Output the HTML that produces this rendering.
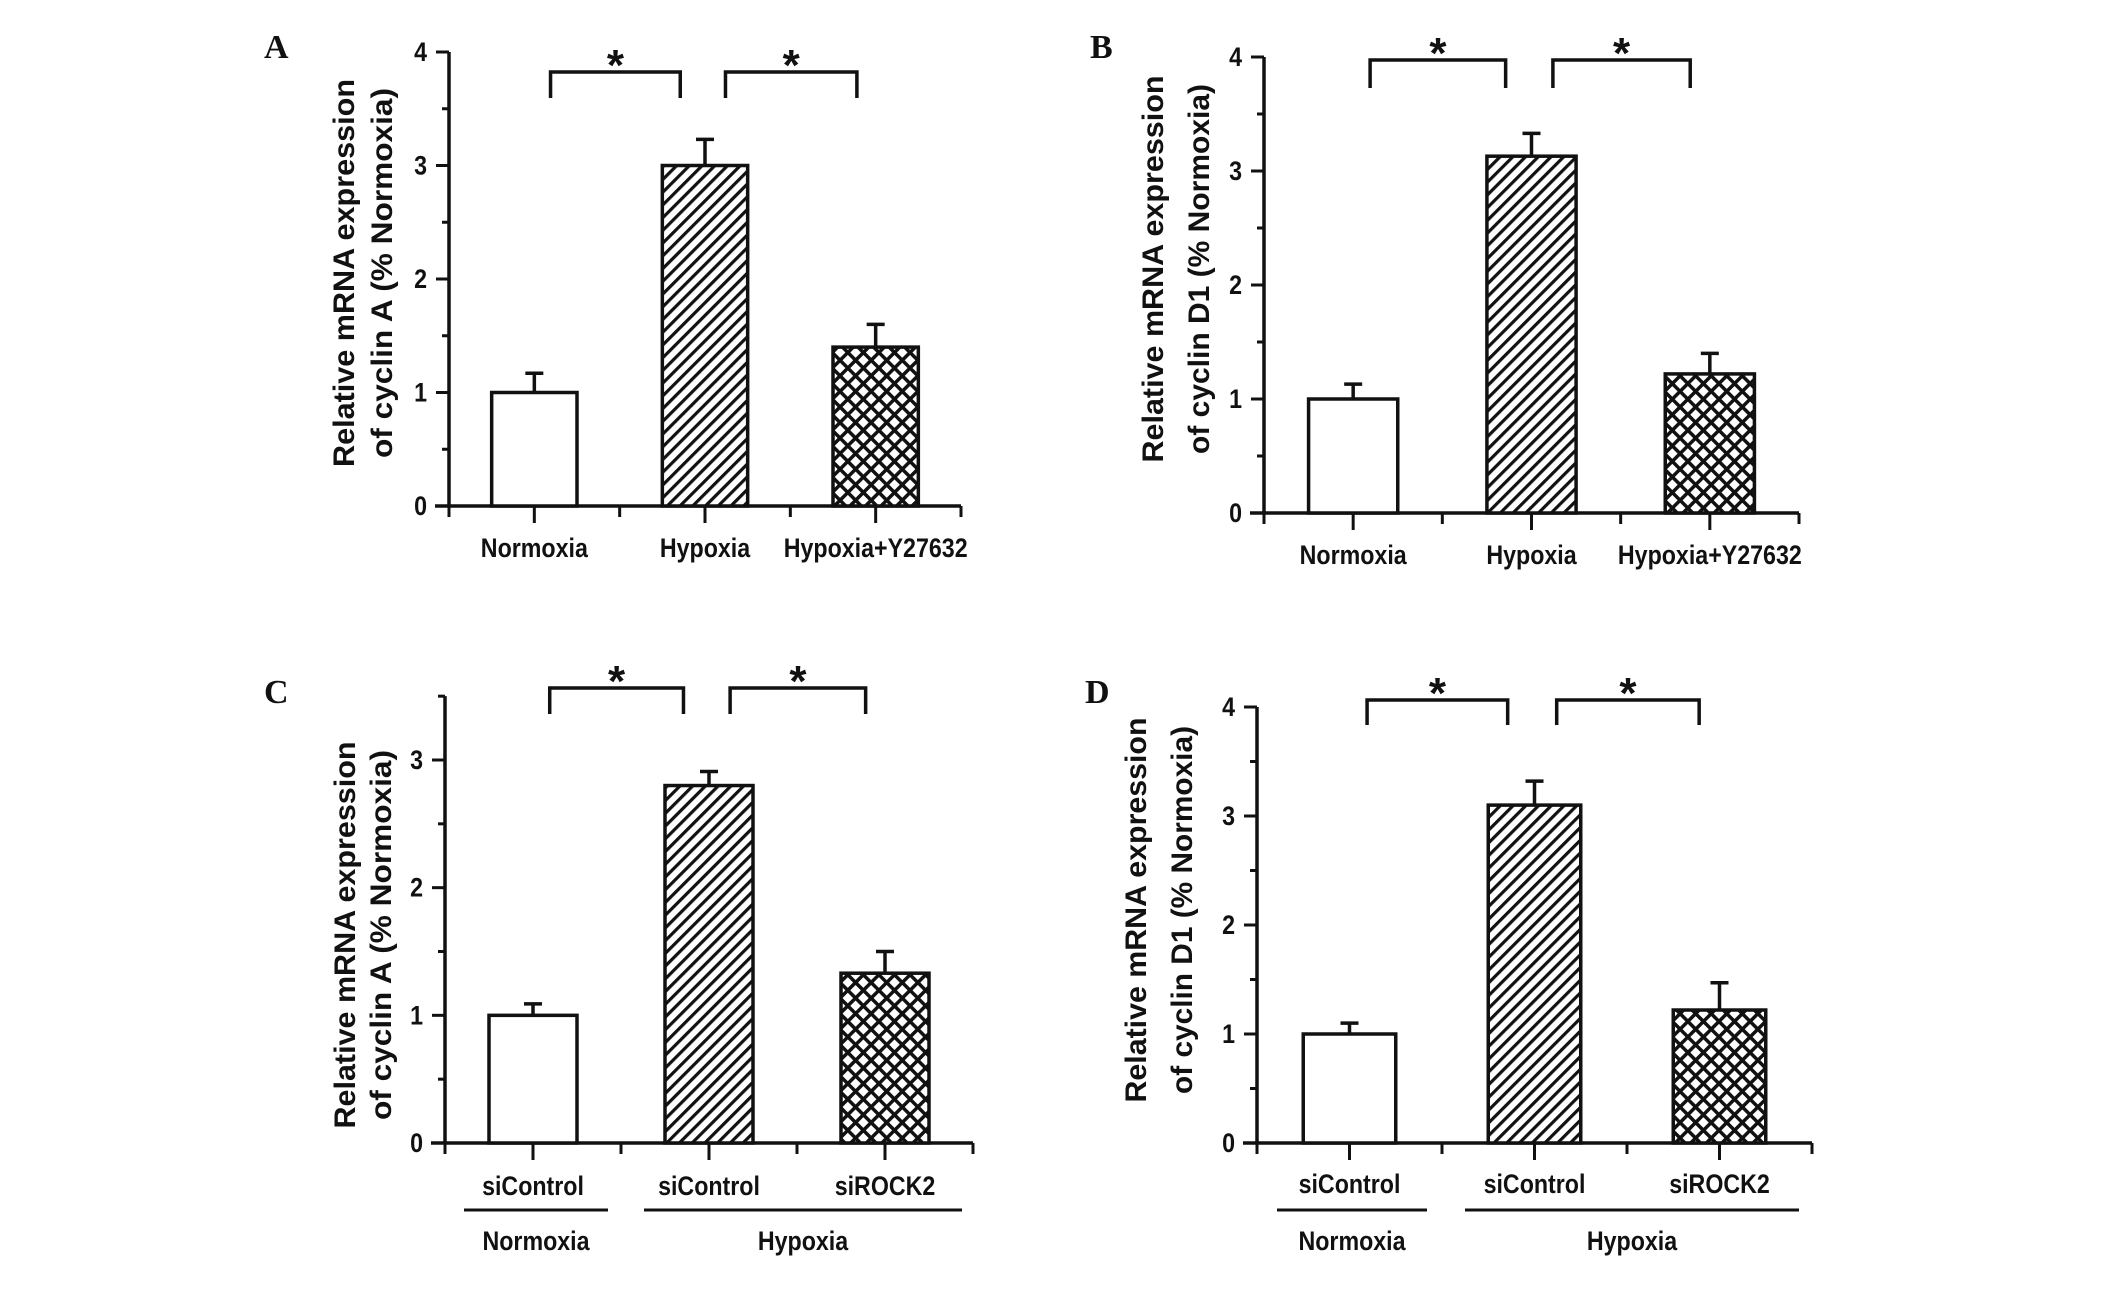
<!DOCTYPE html>
<html><head><meta charset="utf-8"><style>
html,body{margin:0;padding:0;background:#fff;}
svg{display:block;}
.tk{font-family:"Liberation Sans",sans-serif;font-weight:bold;font-size:27px;fill:#111;}
.yt{font-family:"Liberation Sans",sans-serif;font-weight:bold;font-size:30px;fill:#111;}
.star{font-family:"Liberation Sans",sans-serif;font-weight:bold;font-size:44px;fill:#111;}
.pl{font-family:"Liberation Serif",serif;font-weight:bold;font-size:34px;fill:#111;}
</style></head><body>
<svg id="fig" width="2126" height="1302" viewBox="0 0 2126 1302" xmlns="http://www.w3.org/2000/svg">
<defs>
<pattern id="hatch" patternUnits="userSpaceOnUse" width="9" height="9" patternTransform="rotate(45)">
<rect width="9" height="9" fill="#fff"/><rect x="0" y="0" width="3.2" height="9" fill="#111"/>
</pattern>
<pattern id="cross" patternUnits="userSpaceOnUse" width="11" height="11" patternTransform="rotate(45)">
<rect width="11" height="11" fill="#fff"/><rect x="0" y="0" width="3.5" height="11" fill="#111"/><rect x="0" y="0" width="11" height="3.5" fill="#111"/>
</pattern>
</defs>
</svg>
<script>
// Panel A data
const catsA = ["Normoxia","Hypoxia","Hypoxia+Y27632"];
const valsA = [1.0, 3.0, 1.4];
const errA = [0.17, 0.23, 0.2];
const yTicksA = ["0","1","2","3","4"];
// Panel B data
const catsB = ["Normoxia","Hypoxia","Hypoxia+Y27632"];
const valsB = [1.0, 3.13, 1.22];
const errB = [0.13, 0.2, 0.18];
const yTicksB = ["0","1","2","3","4"];
// Panel C data
const catsC = ["siControl","siControl","siROCK2"];
const valsC = [1.0, 2.8, 1.33];
const errC = [0.09, 0.11, 0.17];
const yTicksC = ["0","1","2","3"];
// Panel D data
const catsD = ["siControl","siControl","siROCK2"];
const valsD = [1.0, 3.1, 1.22];
const errD = [0.1, 0.22, 0.25];
const yTicksD = ["0","1","2","3","4"];
const groupsCD = ["Normoxia","Hypoxia"];

const NS="http://www.w3.org/2000/svg";
const svg=document.getElementById('fig');
function mk(tag,attrs,parent){const e=document.createElementNS(NS,tag);for(const k in attrs)e.setAttribute(k,attrs[k]);(parent||svg).appendChild(e);return e;}
const fills=["#fff","url(#hatch)","url(#cross)"];
function nt(g,x,y,anchor,s){
  const t=mk('text',{x:0,y:0,transform:`translate(${x},${y}) scale(0.86,1)`,'text-anchor':anchor,class:'tk'},g);
  t.textContent=s;return t;
}

function panel(p){
  const g=mk('g',{});
  
  
  const y=v=>p.y0-(v)*(p.y0-p.yTop)/p.yMax;
  const ax=p.ax, right=p.right;
  const step=(right-ax)/6;
  const cx=i=>ax+step*(2*i+1);
  const ya=mk('line',{x1:ax,y1:y(p.axisMax),x2:ax,y2:p.y0,stroke:'#111','stroke-width':3.5},g);
  
  
  for(let v=0;v<=p.axisMax+1e-9;v+=0.5){
    const major=Math.abs(v-Math.round(v))<1e-9;
    mk('line',{x1:ax-(major?13:7),y1:y(v),x2:ax,y2:y(v),stroke:'#111','stroke-width':3},g);
  }
  p.ticks.forEach((t)=>{
    const tx=nt(g,ax-22,y(+t)+9,'end',t);
    
    
  });
  const xa=mk('line',{x1:ax-14,y1:p.y0,x2:right,y2:p.y0,stroke:'#111','stroke-width':3.5},g);
  
  
  for(let k=0;k<=6;k++){
    const xx=ax+step*k;
    mk('line',{x1:xx,y1:p.y0,x2:xx,y2:p.y0+(k%2?17:11),stroke:'#111','stroke-width':3},g);
  }
  const bw=step*1.0;
  p.vals.forEach((v,i)=>{
    const top=y(v);
    const r=mk('rect',{x:cx(i)-bw/2,y:top,width:bw,height:p.y0-top,fill:fills[i],stroke:'#111','stroke-width':3.5},g);
    
    
    const et=y(v+p.err[i]);
    const eb=mk('path',{d:`M${cx(i)} ${top} V${et} M${cx(i)-9} ${et} H${cx(i)+9}`,stroke:'#111','stroke-width':3.5,fill:'none'},g);
    
    
    const lb=nt(g,cx(i),p.labY+2,'middle',p.cats[i]);
    
    
  });
  [[0,1,0.19,0.29],[1,2,0.24,0.22]].forEach(([a,b,o1,o2])=>{
    const xs1=cx(a)+step*o1, xs2=cx(b)-step*o2;
    const br=mk('path',{d:`M${xs1} ${p.brB} V${p.brT} H${xs2} V${p.brB}`,stroke:'#111','stroke-width':3.5,fill:'none'},g);
    
    
    const st=mk('text',{x:(xs1+xs2)/2,y:p.brT+8,'text-anchor':'middle',class:'star'},g);
    st.textContent='*';
    
    
  });
  if(p.groups){
    const gl=[[p.gx[0],p.gx[1]],[p.gx[2],p.gx[3]]];
    gl.forEach((r,k)=>{
      mk('line',{x1:r[0],y1:p.gY,x2:r[1],y2:p.gY,stroke:'#111','stroke-width':3},g);
      const t=nt(g,(r[0]+r[1])/2,p.gY+40,'middle',p.groups[k]);
      
      
    });
  }
  const lines=["Relative mRNA expression","of "+p.gene+" (% Normoxia)"];
  lines.forEach((s,k)=>{
    const t=mk('text',{x:0,y:0,transform:`translate(${p.tx[k]},${p.tcy}) rotate(-90)`,'text-anchor':'middle',class:'yt',textLength:p.tl[k],lengthAdjust:'spacingAndGlyphs'},g);
    t.textContent=s;
    
    
  });
  const pl=mk('text',{x:p.lx,y:p.ly,class:'pl'},g);
  pl.textContent=p.id;
  
  
}

panel({id:'A',ax:449,right:961,y0:506,yTop:52,yMax:4,axisMax:4,ticks:yTicksA,vals:valsA,err:errA,cats:catsA,labY:555,brT:72,brB:98,gene:'cyclin A',tx:[354,392],tcy:273,tl:[388,370],lx:264,ly:58});
panel({id:'B',ax:1264,right:1799,y0:513,yTop:57,yMax:4,axisMax:4,ticks:yTicksB,vals:valsB,err:errB,cats:catsB,labY:562,brT:60,brB:88,gene:'cyclin D1',tx:[1163,1209],tcy:269,tl:[387,370],lx:1090,ly:58});
panel({id:'C',ax:445,right:973,y0:1143,yTop:760,yMax:3,axisMax:3.5,ticks:yTicksC,vals:valsC,err:errC,cats:catsC,labY:1193,brT:688,brB:714,gene:'cyclin A',tx:[355,391],tcy:935,tl:[387,370],lx:264,ly:703,groups:groupsCD,gx:[464,608,644,962],gY:1210});
panel({id:'D',ax:1257,right:1812,y0:1143,yTop:707,yMax:4,axisMax:4,ticks:yTicksD,vals:valsD,err:errD,cats:catsD,labY:1191,brT:700,brB:725,gene:'cyclin D1',tx:[1146,1192],tcy:910,tl:[385,368],lx:1085,ly:703,groups:groupsCD,gx:[1277,1427,1465,1799],gY:1210});
</script>
</body></html>
